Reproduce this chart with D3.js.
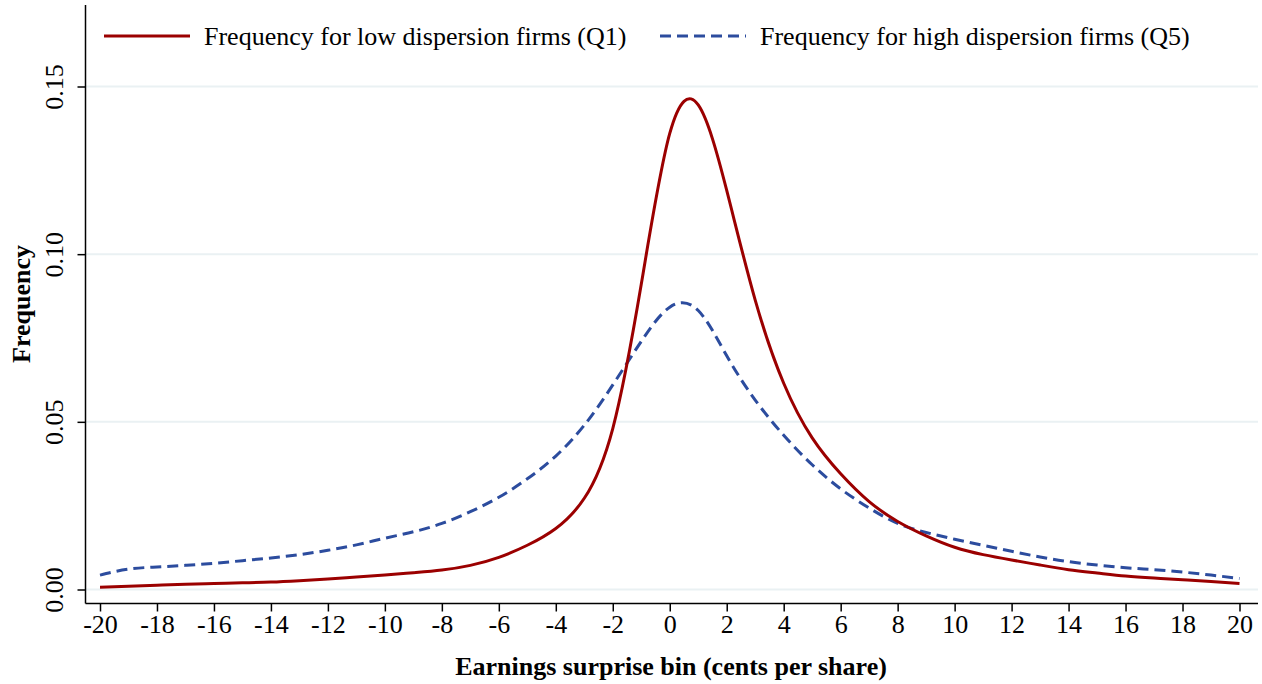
<!DOCTYPE html>
<html>
<head>
<meta charset="utf-8">
<script src="https://cdn.jsdelivr.net/npm/d3@7"></script>
<style>
  body { margin: 0; background: #fff; }
  svg text { font-family: "Liberation Serif", "Times New Roman", serif; fill: #000; }
</style>
</head>
<body>
<div id="chart"></div>
<script>
'use strict';

// Data =============================================

// Earnings surprise bins (cents per share).
var bins = [-20,-19,-18,-17,-16,-15,-14,-13,-12,-11,-10,-9,-8,-7,-6,-5,-4,-3,-2,-1,
  0,1,2,3,4,5,6,7,8,9,10,11,12,13,14,15,16,17,18,19,20];

// Frequency for low dispersion firms (Q1).
var lowFreq = [0.0007,0.0010,0.0013,0.0016,0.0018,0.0020,0.0022,0.0026,0.0031,0.0037,0.0043,
  0.0050,0.0058,0.0072,0.0096,0.0132,0.0182,0.0272,0.0480,0.0910,
  0.1360,0.1445,0.1190,0.0863,0.0615,0.0452,0.0345,0.0262,0.0203,0.0160,0.0126,
  0.0104,0.0088,0.0073,0.0059,0.0049,0.0040,0.0034,0.0029,0.0024,0.0018];

// Frequency for high dispersion firms (Q5).
var highFreq = [0.0043,0.0061,0.0067,0.0072,0.0078,0.0086,0.0094,0.0104,0.0117,0.0133,0.0153,
  0.0172,0.0197,0.0232,0.0275,0.0330,0.0398,0.0490,0.0610,0.0740,
  0.0842,0.0832,0.0697,0.0565,0.0460,0.0372,0.0300,0.0243,0.0197,0.0170,0.0150,
  0.0132,0.0114,0.0097,0.0083,0.0073,0.0065,0.0059,0.0052,0.0043,0.0033];

var xTicks = d3.range(-20, 21, 2);
var yTicks = [0, 0.05, 0.10, 0.15];

var seriesNames = ['Frequency for low dispersion firms (Q1)', 'Frequency for high dispersion firms (Q5)'];

//Sizing things.
var width = 1262, height = 684;
var plotLeft = 85.5, plotTop = 5, plotRight = 1258, plotBottom = 603.5;
var fontSize = 26;

var svg = d3.select('#chart').append('svg')
  .attr('width', width)
  .attr('height', height);

var x = d3.scaleLinear().domain([-20, 20]).range([100, 1239.5]);
var y = d3.scaleLinear().domain([0, 0.15]).range([589.5, 86.5]);

// gridlines
svg.append('g').selectAll('line')
  .data(yTicks)
  .enter().append('line')
  .attr('x1', plotLeft).attr('x2', plotRight)
  .attr('y1', function (d) { return y(d); })
  .attr('y2', function (d) { return y(d); })
  .attr('stroke', '#eaf1f3')
  .attr('stroke-width', 2);

// y axis
var yAxis = svg.append('g')
  .attr('transform', 'translate(' + plotLeft + ',0)')
  .call(d3.axisLeft(y).tickValues(yTicks).tickSize(8).tickSizeOuter(0).tickFormat(d3.format('.2f')));
yAxis.select('.domain').attr('d', 'M0,' + plotTop + 'V' + plotBottom).attr('stroke-width', 1.5);
yAxis.selectAll('.tick line').attr('stroke-width', 1.5);
yAxis.selectAll('.tick text')
  .attr('font-size', fontSize)
  .attr('font-family', '"Liberation Serif", serif')
  .attr('x', 0).attr('dy', 0)
  .attr('text-anchor', 'middle')
  .attr('transform', 'translate(-23,0) rotate(-90)');

// x axis
var xAxis = svg.append('g')
  .attr('transform', 'translate(0,' + plotBottom + ')')
  .call(d3.axisBottom(x).tickValues(xTicks).tickSize(8).tickSizeOuter(0).tickFormat(d3.format('d')));
xAxis.select('.domain').attr('d', 'M' + plotLeft + ',0H' + plotRight).attr('stroke-width', 1.5);
xAxis.selectAll('.tick line').attr('stroke-width', 1.5);
xAxis.selectAll('.tick text')
  .attr('font-size', fontSize)
  .attr('font-family', '"Liberation Serif", serif')
  .attr('y', 11).attr('dy', '0.71em')
  .text(function (d) { return d < 0 ? '-' + Math.abs(d) : d; });

// axis titles
svg.append('text')
  .attr('x', 671).attr('y', 675)
  .attr('text-anchor', 'middle')
  .attr('font-size', fontSize)
  .attr('font-weight', 'bold')
  .text('Earnings surprise bin (cents per share)');

svg.append('text')
  .attr('transform', 'translate(30,304) rotate(-90)')
  .attr('text-anchor', 'middle')
  .attr('font-size', fontSize)
  .attr('font-weight', 'bold')
  .text('Frequency');

// lines
var line = d3.line()
  .x(function (d) { return x(d[0]); })
  .y(function (d) { return y(d[1]); })
  .curve(d3.curveNatural);

svg.append('path')
  .datum(d3.zip(bins, highFreq))
  .attr('d', line)
  .attr('fill', 'none')
  .attr('stroke', '#2c4c9e')
  .attr('stroke-width', 3)
  .attr('stroke-dasharray', '11,6');

svg.append('path')
  .datum(d3.zip(bins, lowFreq))
  .attr('d', line)
  .attr('fill', 'none')
  .attr('stroke', '#9b0000')
  .attr('stroke-width', 3);

// legend
var legend = svg.append('g');
legend.append('line')
  .attr('x1', 104).attr('x2', 190).attr('y1', 36).attr('y2', 36)
  .attr('stroke', '#9b0000').attr('stroke-width', 3);
legend.append('text')
  .attr('x', 204).attr('y', 45)
  .attr('font-size', fontSize)
  .text(seriesNames[0]);
legend.append('line')
  .attr('x1', 660).attr('x2', 746).attr('y1', 36).attr('y2', 36)
  .attr('stroke', '#2c4c9e').attr('stroke-width', 3)
  .attr('stroke-dasharray', '11,6');
legend.append('text')
  .attr('x', 760).attr('y', 45)
  .attr('font-size', fontSize)
  .text(seriesNames[1]);
</script>
</body>
</html>
